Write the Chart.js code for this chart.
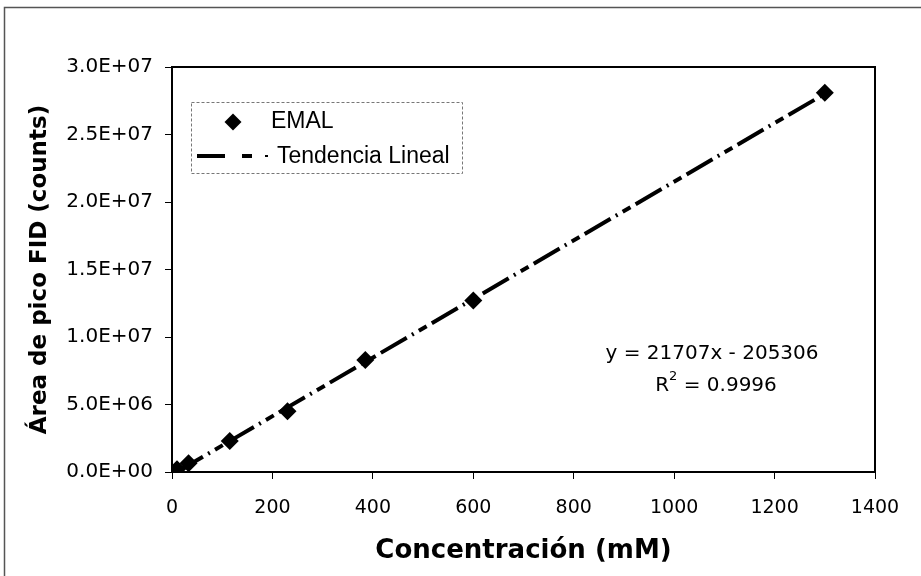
<!DOCTYPE html>
<html>
<head>
<meta charset="utf-8">
<script src="https://cdn.jsdelivr.net/npm/chart.js@4/dist/chart.umd.min.js"></script>
<style>
html,body{margin:0;padding:0;background:#fff;}
#wrap{position:absolute;left:0;top:0;width:921px;height:576px;}
</style>
</head>
<body>
<div id="wrap"><canvas id="c" width="921" height="576"></canvas></div>
<script>
const concentraciones = [10, 33, 115, 230, 385, 600, 1300];
const areas = [2.0e5, 6.5e5, 2.3e6, 4.5e6, 8.3e6, 1.27e7, 2.81e7];
const pendiente = 21707;
const intercepto = -205306;
const r2Texto = "0.9996";
const xTicks = [0, 200, 400, 600, 800, 1000, 1200, 1400];
const yTicks = [0, 5e6, 1e7, 1.5e7, 2e7, 2.5e7, 3e7];
const serieNombre = "EMAL";
const tendenciaNombre = "Tendencia Lineal";

const FONT = "'DejaVu Sans',sans-serif";
const LFONT = "'Liberation Sans',Arial,sans-serif";

function fmtE(v){
  if (v === 0) return "0.0E+00";
  const e = Math.floor(Math.log10(Math.abs(v)) + 1e-9);
  const m = v / Math.pow(10, e);
  return m.toFixed(1) + "E+" + String(e).padStart(2, "0");
}

const pts = concentraciones.map((x, i) => ({x, y: areas[i]}));
const xMin = Math.min(...concentraciones), xMax = Math.max(...concentraciones);
const trend = [xMin, xMax].map(x => ({x, y: pendiente * x + intercepto}));

const PLOT = {left:172, top:67, right:875, bottom:472};
const DASH = [30, 6, 2, 6, 9, 6];

const extras = {
  id: 'extras',
  beforeDraw(chart){
    const ctx = chart.ctx;
    ctx.save();
    ctx.fillStyle = '#fff';
    ctx.fillRect(0,0,chart.width,chart.height);
    ctx.strokeStyle = '#555';
    ctx.lineWidth = 1.5;
    ctx.strokeRect(4.5, 7.5, 960, 620);
    ctx.restore();
  },
  afterDraw(chart){
    const ctx = chart.ctx;
    const a = chart.chartArea;
    ctx.save();
    // plot frame top/right
    ctx.strokeStyle = '#000';
    ctx.lineWidth = 2;
    ctx.beginPath();
    ctx.moveTo(a.left, a.top); ctx.lineTo(a.right, a.top); ctx.lineTo(a.right, a.bottom);
    ctx.stroke();
    // legend box
    ctx.strokeStyle = '#777';
    ctx.lineWidth = 1;
    ctx.setLineDash([3,2]);
    ctx.strokeRect(191.5, 102.5, 271, 71);
    ctx.setLineDash([]);
    // diamond
    ctx.fillStyle = '#000';
    ctx.beginPath();
    const dx = 233, dy = 122, r = 8.5;
    ctx.moveTo(dx, dy - r); ctx.lineTo(dx + r, dy); ctx.lineTo(dx, dy + r); ctx.lineTo(dx - r, dy); ctx.closePath();
    ctx.fill();
    // line sample
    ctx.strokeStyle = '#000';
    ctx.lineWidth = 4;
    ctx.beginPath();
    ctx.moveTo(197, 156); ctx.lineTo(225, 156);
    ctx.moveTo(242, 156); ctx.lineTo(252, 156);
    ctx.stroke();
    ctx.lineWidth = 2;
    ctx.beginPath();
    ctx.moveTo(265, 156); ctx.lineTo(268, 156);
    ctx.stroke();
    ctx.font = "23px " + LFONT;
    ctx.textBaseline = 'middle';
    ctx.textAlign = 'left';
    ctx.fillText(serieNombre, 271, 122);
    ctx.fillText(tendenciaNombre, 277, 157);
    // equation
    ctx.font = "20px " + FONT;
    ctx.textAlign = 'center';
    const sign = intercepto < 0 ? " - " : " + ";
    ctx.fillText("y = " + pendiente + "x" + sign + Math.abs(intercepto), 712, 354);
    // R^2
    const rPart = "R", rest = " = " + r2Texto;
    const w1 = ctx.measureText(rPart).width;
    ctx.font = "13px " + FONT;
    const w2 = ctx.measureText("2").width;
    ctx.font = "20px " + FONT;
    const w3 = ctx.measureText(rest).width;
    let sx = 716 - (w1 + w2 + w3) / 2;
    ctx.textAlign = 'left';
    ctx.fillText(rPart, sx, 386);
    ctx.font = "13px " + FONT;
    ctx.fillText("2", sx + w1, 377);
    ctx.font = "20px " + FONT;
    ctx.fillText(rest, sx + w1 + w2, 386);
    ctx.restore();
  }
};

new Chart(document.getElementById('c'), {
  type: 'scatter',
  data: {
    datasets: [
      {
        type: 'line',
        label: tendenciaNombre,
        data: trend,
        borderColor: '#000',
        borderWidth: 4,
        borderDash: DASH,
        pointRadius: 0,
        fill: false,
        order: 2
      },
      {
        label: serieNombre,
        data: pts,
        pointStyle: 'rectRot',
        pointRadius: 9,
        pointHoverRadius: 9,
        backgroundColor: '#000',
        borderColor: '#000',
        borderWidth: 0,
        order: 1
      }
    ]
  },
  options: {
    responsive: false,
    animation: false,
    devicePixelRatio: 1,
    layout: {padding: {top: PLOT.top, right: 921 - PLOT.right, bottom: 0, left: 0}},
    plugins: {legend: {display: false}, tooltip: {enabled: false}},
    scales: {
      x: {
        type: 'linear',
        min: 0, max: 1400,
        afterBuildTicks(s){ s.ticks = xTicks.map(v => ({value: v})); },
        afterFit(s){ s.height = 576 - PLOT.bottom; },
        grid: {display: true, drawOnChartArea: false, drawTicks: true, tickLength: 7, color: '#000', lineWidth: 1},
        border: {display: true, color: '#000', width: 2},
        ticks: {color: '#000', font: {family: FONT, size: 19}, padding: 18, maxRotation: 0, callback: v => String(v)},
        title: {display: true, text: 'Concentración (mM)', color: '#000', font: {family: FONT, size: 26, weight: 'bold'}, padding: {top: 2, bottom: 9}}
      },
      y: {
        type: 'linear',
        min: 0, max: 3e7,
        afterBuildTicks(s){ s.ticks = yTicks.map(v => ({value: v})); },
        afterFit(s){ s.width = PLOT.left; },
        grid: {display: true, drawOnChartArea: false, drawTicks: true, tickLength: 7, color: '#000', lineWidth: 1},
        border: {display: true, color: '#000', width: 2},
        ticks: {color: '#000', font: {family: FONT, size: 20}, padding: 12, callback: v => fmtE(v)},
        title: {display: true, text: 'Área de pico FID (counts)', color: '#000', font: {family: FONT, size: 23, weight: 'bold'}, padding: {top: 26, bottom: 0}}
      }
    }
  },
  plugins: [extras]
});
</script>
</body>
</html>
